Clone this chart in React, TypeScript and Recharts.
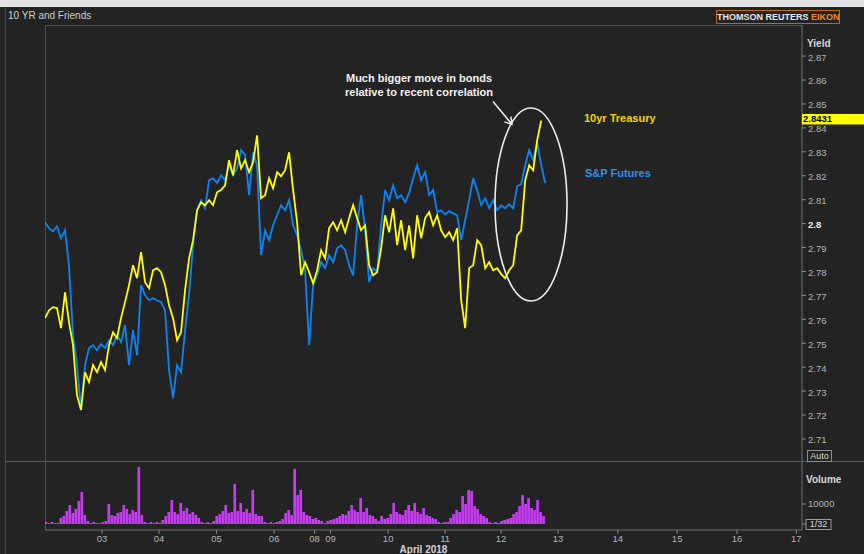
import React from 'react';
import { ComposedChart, Line, XAxis, YAxis, ReferenceDot, BarChart, Bar } from 'recharts';

// ---- data (x in trading days from the left edge of the chart) ----
const TIME_STEP = 0.0702; // sampling interval of the price series, trading days
const treasury10y = [
  2.7605, 2.7638, 2.7651, 2.7647, 2.7563, 2.7713, 2.7588, 2.7492, 2.7283, 2.7221,
  2.7379, 2.7338, 2.7409, 2.7379, 2.7421, 2.7388, 2.7492, 2.7546, 2.7521, 2.7605,
  2.7672, 2.7743, 2.7826, 2.7772, 2.7881, 2.7755, 2.7730, 2.7805, 2.7814, 2.7797,
  2.7743, 2.7659, 2.7605, 2.7513, 2.7546, 2.7722, 2.7855, 2.7931, 2.8056, 2.8089,
  2.8077, 2.8098, 2.8077, 2.8131, 2.8140, 2.8160, 2.8265, 2.8202, 2.8307, 2.8231,
  2.8265, 2.8215, 2.8256, 2.8369, 2.8106, 2.8119, 2.8190, 2.8148, 2.8215, 2.8198,
  2.8223, 2.8298, 2.8140, 2.8006, 2.7784, 2.7839, 2.7797, 2.7751, 2.7805, 2.7889,
  2.7855, 2.7981, 2.8006, 2.7972, 2.8014, 2.7964, 2.8023, 2.8077, 2.8023, 2.7972,
  2.7993, 2.7826, 2.7784, 2.7797, 2.7897, 2.8035, 2.7964, 2.8064, 2.7910, 2.8014,
  2.7889, 2.7993, 2.7855, 2.8035, 2.7939, 2.8023, 2.8048, 2.7993, 2.8035, 2.7972,
  2.7943, 2.7964, 2.7931, 2.7981, 2.7680, 2.7563, 2.7814, 2.7826, 2.7931, 2.7910,
  2.7814, 2.7839, 2.7805, 2.7814, 2.7789, 2.7772, 2.7805, 2.7826, 2.7952, 2.7972,
  2.8181, 2.8244, 2.8223, 2.8349, 2.8431,
];
const spFutures = [
  2.8006, 2.7981, 2.7968, 2.7989, 2.7939, 2.7972, 2.7826, 2.7534, 2.7409, 2.7221,
  2.7409, 2.7480, 2.7492, 2.7471, 2.7496, 2.7480, 2.7513, 2.7492, 2.7534, 2.7505,
  2.7576, 2.7409, 2.7555, 2.7450, 2.7743, 2.7701, 2.7680, 2.7688, 2.7680, 2.7672,
  2.7638, 2.7388, 2.7271, 2.7409, 2.7379, 2.7555, 2.7701, 2.7910, 2.8056, 2.8098,
  2.8064, 2.8181, 2.8190, 2.8169, 2.8202, 2.8181, 2.8244, 2.8202, 2.8231, 2.8307,
  2.8286, 2.8119, 2.8298, 2.8244, 2.7868, 2.7972, 2.7931, 2.7993, 2.8035, 2.8077,
  2.8056, 2.8098, 2.7993, 2.7952, 2.7889, 2.7805, 2.7492, 2.7743, 2.7784, 2.7839,
  2.7814, 2.7868, 2.7839, 2.7897, 2.7910, 2.7889, 2.7826, 2.7784, 2.7993, 2.8119,
  2.7972, 2.7755, 2.7814, 2.7797, 2.7993, 2.8140, 2.8098, 2.8160, 2.8106, 2.8119,
  2.8089, 2.8127, 2.8190, 2.8244, 2.8181, 2.8215, 2.8119, 2.8140, 2.8048, 2.8056,
  2.8039, 2.8052, 2.8043, 2.8035, 2.7931, 2.8014, 2.8098, 2.8190, 2.8140, 2.8077,
  2.8106, 2.8064, 2.8098, 2.8056, 2.8077, 2.8064, 2.8081, 2.8064, 2.8156, 2.8165,
  2.8244, 2.8307, 2.8265, 2.8340, 2.8244, 2.8169,
];
const VOL_START = 0.0175;
const VOL_STEP = 0.0526;
const volume = [
  1000, 500, 1000, 500, 500, 3000, 4000, 6500, 9500, 5500,
  7500, 11500, 16000, 4500, 1500, 500, 1000, 500, 500, 1000,
  1500, 10000, 4500, 4000, 5500, 6000, 9500, 7500, 5000, 7000,
  6000, 28500, 4500, 1000, 500, 1000, 500, 1000, 500, 2000,
  4000, 6000, 12000, 6000, 5000, 10500, 6500, 8000, 5000, 6000,
  4500, 3000, 1000, 500, 1000, 500, 1500, 4000, 5000, 6500,
  9500, 5500, 6000, 20000, 6500, 10500, 6000, 7500, 5500, 17000,
  5000, 4000, 4000, 1000, 500, 1000, 500, 1000, 1500, 2500,
  5500, 7000, 4500, 27500, 14500, 17000, 6000, 4500, 4000, 2500,
  3000, 2000, 1500, 500, 1500, 2000, 2500, 3000, 4000, 5000,
  4500, 6500, 9500, 7000, 6000, 13000, 6000, 8000, 4500, 4000,
  2500, 1500, 4000, 2500, 3000, 5000, 10500, 6000, 5000, 4500,
  7000, 9500, 6500, 10500, 6000, 5000, 8000, 4500, 4000, 3000,
  2500, 1000, 500, 1000, 1000, 3000, 5000, 7000, 6000, 14000,
  10000, 17000, 16500, 9000, 7500, 5000, 4000, 3000, 1000, 500,
  1000, 500, 1500, 2000, 2500, 3000, 5000, 6000, 9000, 14500,
  10000, 13000, 8000, 7000, 12000, 6000, 4000,
];
const xTickPos = [1.0, 2.0, 3.01, 4.02, 4.73, 5.01, 6.02, 7.02, 8.0, 9.0, 10.05, 11.09, 12.14, 13.18];
const xTickLabels = ['03', '04', '05', '06', '08', '09', '10', '11', '12', '13', '14', '15', '16', '17'];
const yTicks = [2.71, 2.72, 2.73, 2.74, 2.75, 2.76, 2.77, 2.78, 2.79, 2.8, 2.81, 2.82, 2.83, 2.84, 2.85, 2.86, 2.87];
const yTickLabels = ['2.71', '2.72', '2.73', '2.74', '2.75', '2.76', '2.77', '2.78', '2.79', '2.8', '2.81', '2.82', '2.83', '2.84', '2.85', '2.86', '2.87'];
const volTicks = [0, 10000];
const volTickLabels = ['1/32', '10000'];
const X_DOMAIN: [number, number] = [0, 13.28];
const Y_DOMAIN: [number, number] = [2.7008, 2.883];
const VOL_DOMAIN: [number, number] = [-3000, 31500];
const LAST_YIELD = 2.8431;
const HIGHLIGHT_X = 8.526;
const HIGHLIGHT_Y = 2.808;

const FONT = '"Liberation Sans", Arial, sans-serif';
const YELLOW = '#ffff00';
const BLUE = '#0b84f5';

const YTick = (props: any) => {
  const { x, y, index } = props;
  const label = yTickLabels[index];
  const strong = label === '2.8';
  return (
    <text x={x} y={y + 1} dy="0.36em" textAnchor="start" fontSize={9.5}
      fill={strong ? '#ececec' : '#b4b4b4'} fontWeight={strong ? 'bold' : 'normal'}>
      {label}
    </text>
  );
};

const VolTick = (props: any) => {
  const { x, y, index } = props;
  const label = volTickLabels[index];
  if (index === 0) {
    return (
      <g>
        <rect x={x - 2} y={y - 4.5} width={25} height={10} fill="none" stroke="#9a9a9a" strokeWidth={1} />
        <text x={x + 10.5} y={y} dy="0.36em" textAnchor="middle" fontSize={9} fill="#d8d8d8">{label}</text>
      </g>
    );
  }
  return (
    <text x={x} y={y} dy="0.36em" textAnchor="start" fontSize={9.5} fill="#b4b4b4">{label}</text>
  );
};

const HighlightShape = (p: any) => {
  const { cx, cy } = p;
  const ax1 = cx - 38, ay1 = cy - 103, ax2 = cx - 19, ay2 = cy - 80;
  const ang = Math.atan2(ay2 - ay1, ax2 - ax1);
  const L = 8;
  const w1x = ax2 - L * Math.cos(ang - 0.55), w1y = ay2 - L * Math.sin(ang - 0.55);
  const w2x = ax2 - L * Math.cos(ang + 0.55), w2y = ay2 - L * Math.sin(ang + 0.55);
  return (
    <g>
      <ellipse cx={cx} cy={cy} rx={36} ry={96.5} fill="none" stroke="#ececec" strokeWidth={1.6} />
      <path d={`M${ax1},${ay1} L${ax2},${ay2} M${w1x},${w1y} L${ax2},${ay2} L${w2x},${w2y}`}
        fill="none" stroke="#ececec" strokeWidth={1.5} />
    </g>
  );
};

const LastTag = (p: any) => {
  const { cx, cy } = p;
  return (
    <g>
      <rect x={cx} y={cy - 6.5} width={62} height={10.5} fill={YELLOW} />
      <text x={cx + 1} y={cy - 1.2} dy="0.33em" fontSize={9.5} fontWeight="bold" fill="#000">{LAST_YIELD.toFixed(4)}</text>
    </g>
  );
};

export default function App() {
  const priceData = spFutures.map((sp, i) => ({
    t: i * TIME_STEP,
    sp,
    ty: i < treasury10y.length ? treasury10y[i] : null,
  }));
  const volumeData = volume.map((v, k) => ({ t: VOL_START + k * VOL_STEP, v }));

  const abs = (s: React.CSSProperties): React.CSSProperties => ({ position: 'absolute', ...s });

  return (
    <div style={abs({ left: 0, top: 0, width: 864, height: 554, background: '#232323', overflow: 'hidden', fontFamily: FONT })}>
      <div style={abs({ left: 0, top: 0, width: 864, height: 7, background: '#e2e2e2' })} />
      <div style={abs({ left: 5, top: 7, width: 1, height: 547, background: '#484848' })} />
      <div style={abs({ left: 8, top: 10, fontSize: 10, color: '#cfcfcf', lineHeight: '12px', whiteSpace: 'nowrap' })}>10 YR and Friends</div>
      <div style={abs({ left: 716, top: 10, width: 122, height: 12, border: '1px solid #c06a10', fontSize: 9, fontWeight: 'bold', lineHeight: '12px', textAlign: 'center', whiteSpace: 'nowrap', color: '#e8e8e8' })}>
        THOMSON REUTERS <span style={{ color: '#f08a1c' }}>EIKON</span>
      </div>

      {/* plot frame */}
      <div style={abs({ left: 45, top: 25, width: 757, height: 436, borderLeft: '1px solid #4e4e4e', borderTop: '1px solid #4e4e4e', boxSizing: 'border-box' })} />
      <div style={abs({ left: 5, top: 461, width: 859, height: 1, background: '#5c5c5c' })} />
      <div style={abs({ left: 45, top: 461, width: 1, height: 69, background: '#4e4e4e' })} />

      <div style={abs({ left: 0, top: 0 })}>
        <ComposedChart width={864} height={462} data={priceData} margin={{ top: 25, right: 0, bottom: 1, left: 45 }}>
          <XAxis dataKey="t" type="number" domain={X_DOMAIN} allowDataOverflow hide />
          <YAxis orientation="right" domain={Y_DOMAIN} allowDataOverflow ticks={yTicks} interval={0} width={62}
            axisLine={{ stroke: '#707070' }} tickLine={{ stroke: '#8c8c8c' }} tickSize={4} tickMargin={2} tick={<YTick />} />
          <Line dataKey="sp" type="linear" stroke={BLUE} strokeWidth={1.8} dot={false} isAnimationActive={false} connectNulls={false} />
          <Line dataKey="ty" type="linear" stroke={YELLOW} strokeWidth={1.8} dot={false} isAnimationActive={false} connectNulls={false} />
          <ReferenceDot x={HIGHLIGHT_X} y={HIGHLIGHT_Y} ifOverflow="visible" shape={<HighlightShape />} />
          <ReferenceDot x={X_DOMAIN[1]} y={LAST_YIELD} ifOverflow="visible" shape={<LastTag />} />
        </ComposedChart>
      </div>

      <div style={abs({ left: 0, top: 461 })}>
        <BarChart width={864} height={93} data={volumeData} margin={{ top: 0, right: 0, bottom: 0, left: 45 }}>
          <XAxis dataKey="t" type="number" domain={X_DOMAIN} allowDataOverflow ticks={xTickPos} interval={0}
            tickFormatter={(v: number, i: number) => xTickLabels[i]} height={24} tickSize={4} tickMargin={1}
            axisLine={{ stroke: '#707070' }} tickLine={{ stroke: '#8c8c8c' }} tick={{ fill: '#b4b4b4', fontSize: 9.5 }}
            label={{ value: 'April 2018', position: 'insideBottom', offset: 1, fill: '#d4d4d4', fontSize: 10, fontWeight: 'bold' }} />
          <YAxis orientation="right" domain={VOL_DOMAIN} allowDataOverflow ticks={volTicks} interval={0} width={62}
            axisLine={{ stroke: '#707070' }} tickLine={{ stroke: '#8c8c8c' }} tickSize={4} tickMargin={2} tick={<VolTick />} />
          <Bar dataKey="v" fill="#c63cf2" barSize={3} isAnimationActive={false} />
        </BarChart>
      </div>

      {/* axis titles & annotations */}
      <div style={abs({ left: 807, top: 38, fontSize: 10, fontWeight: 'bold', color: '#d8d8d8', lineHeight: '12px' })}>Yield</div>
      <div style={abs({ left: 807, top: 450, width: 23, height: 10, border: '1px solid #8e8e8e', fontSize: 9, color: '#dcdcdc', lineHeight: '10px', textAlign: 'center' })}>Auto</div>
      <div style={abs({ left: 806, top: 474, fontSize: 10, fontWeight: 'bold', color: '#d8d8d8', lineHeight: '12px' })}>Volume</div>

      <div style={abs({ left: 318, top: 71, width: 202, fontSize: 11, fontWeight: 'bold', color: '#f2f2f2', lineHeight: '14px', textAlign: 'center' })}>
        Much bigger move in bonds<br />relative to recent correlation
      </div>
      <div style={abs({ left: 584, top: 112, fontSize: 11, fontWeight: 'bold', color: '#f2d600', lineHeight: '12px', whiteSpace: 'nowrap' })}>10yr Treasury</div>
      <div style={abs({ left: 585, top: 167, fontSize: 11, fontWeight: 'bold', color: '#2f8fea', lineHeight: '12px', whiteSpace: 'nowrap' })}>S&amp;P Futures</div>
    </div>
  );
}
